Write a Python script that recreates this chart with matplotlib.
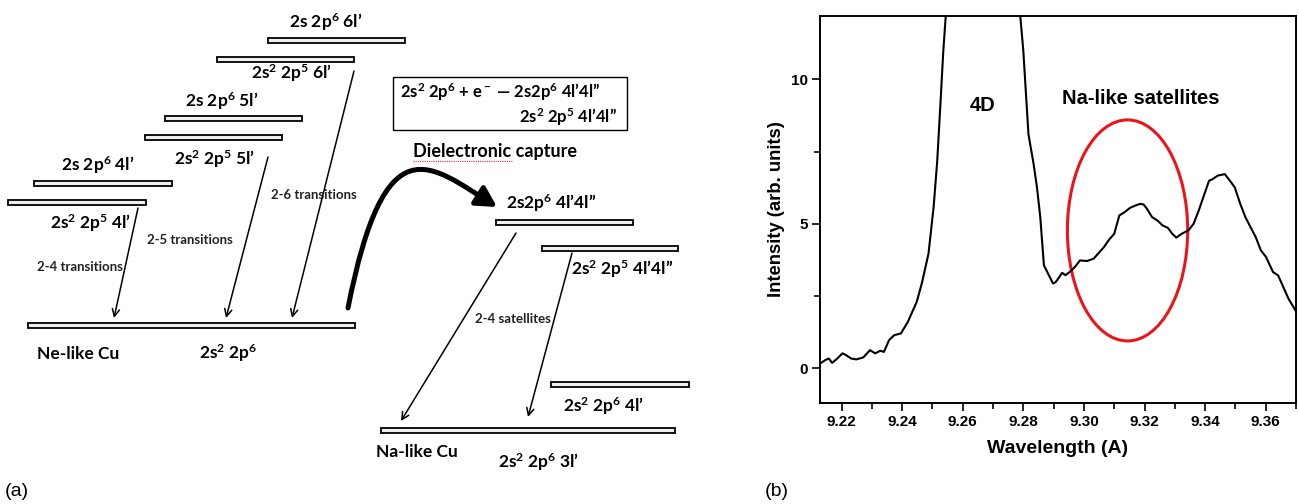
import matplotlib
matplotlib.use("Agg")
import matplotlib.pyplot as plt
from matplotlib.patches import Rectangle, Ellipse, FancyArrowPatch
from matplotlib.path import Path
from matplotlib.ticker import MultipleLocator

plt.rcParams["mathtext.fontset"] = "custom"
plt.rcParams["mathtext.rm"] = "Lato:bold"
plt.rcParams["mathtext.bf"] = "Lato:bold"
plt.rcParams["mathtext.it"] = "Lato:bold:italic"
plt.rcParams["mathtext.default"] = "rm"

# ---- (a) level scheme, in picture pixels ----
level_x0 = [268, 217, 165, 145, 34, 8, 28, 496, 542, 551, 381]
level_x1 = [405, 354, 302, 282, 172, 146, 355, 633, 678, 689, 675]
level_y = [38, 57, 116, 135, 181, 200, 323, 220, 246, 382, 428]

level_labels = [
    "2s 2p$^6$ 6l’", "2s$^2$ 2p$^5$ 6l’", "2s 2p$^6$ 5l’", "2s$^2$ 2p$^5$ 5l’",
    "2s 2p$^6$ 4l’", "2s$^2$ 2p$^5$ 4l’", "2s$^2$ 2p$^6$", "2s2p$^6$ 4l’4l”",
    "2s$^2$ 2p$^5$ 4l’4l”", "2s$^2$ 2p$^6$ 4l’", "2s$^2$ 2p$^6$ 3l’",
]
label_x = [326, 292, 222, 215, 98, 91, 228, 551, 622, 604, 539]
label_y = [28, 79, 107, 165, 171, 229, 359, 209, 275, 412, 468]

ion_labels = ["Ne-like Cu", "Na-like Cu"]
ion_x = [37, 376]
ion_y = [359, 457]

trans_labels = ["2-6 transitions", "2-5 transitions", "2-4 transitions", "2-4 satellites"]
trans_x = [271, 147, 37, 475]
trans_y = [199, 244, 271, 323]

arrow_start = [(138, 208), (268, 157), (354, 71), (516, 233), (572, 253)]
arrow_end = [(114, 318), (226, 318), (292, 318), (401, 421), (528, 417)]

capture_path = [(348, 308), (385, 120), (430, 165), (497, 207)]

# ---- (b) spectrum ----
wavelength = [9.2130, 9.2147, 9.2158, 9.2169, 9.2186, 9.2203, 9.2215, 9.2232, 9.2249, 9.2272,
              9.2294, 9.2311, 9.2328, 9.2340, 9.2357, 9.2374, 9.2396, 9.2419, 9.2448, 9.2465,
              9.2487, 9.2504, 9.2516, 9.2527, 9.2536, 9.2544, 9.2570, 9.2620, 9.2670, 9.2720,
              9.2770, 9.2790, 9.2800, 9.2817, 9.2834, 9.2845, 9.2856, 9.2868, 9.2879, 9.2890,
              9.2898, 9.2907, 9.2919, 9.2928, 9.2939, 9.2953, 9.2970, 9.2987, 9.3010, 9.3032,
              9.3049, 9.3066, 9.3083, 9.3100, 9.3117, 9.3134, 9.3152, 9.3169, 9.3186, 9.3197,
              9.3208, 9.3225, 9.3243, 9.3260, 9.3277, 9.3292, 9.3305, 9.3322, 9.3345, 9.3362,
              9.3379, 9.3396, 9.3413, 9.3425, 9.3442, 9.3465, 9.3482, 9.3498, 9.3516, 9.3533,
              9.3550, 9.3567, 9.3584, 9.3601, 9.3624, 9.3641, 9.3658, 9.3675, 9.3698]
intensity = [0.16, 0.28, 0.33, 0.18, 0.33, 0.51, 0.45, 0.33, 0.30, 0.37,
             0.62, 0.51, 0.60, 0.56, 0.97, 1.14, 1.20, 1.60, 2.29, 2.93,
             3.96, 5.58, 7.19, 9.26, 11.0, 12.2, 16.0, 22.0, 25.0, 22.0,
             15.0, 12.2, 11.0, 8.1, 7.07, 6.27, 5.23, 3.56, 3.33, 3.10,
             2.93, 2.98, 3.16, 3.30, 3.22, 3.33, 3.50, 3.73, 3.71, 3.79,
             3.99, 4.19, 4.45, 4.65, 5.29, 5.40, 5.55, 5.63, 5.69, 5.67,
             5.52, 5.23, 5.11, 4.94, 4.86, 4.65, 4.52, 4.65, 4.77, 5.00,
             5.46, 5.98, 6.49, 6.55, 6.67, 6.72, 6.49, 6.26, 5.69, 5.23,
             4.88, 4.54, 4.08, 3.85, 3.33, 3.21, 2.81, 2.41, 2.00]

xticks = [9.22, 9.24, 9.26, 9.28, 9.30, 9.32, 9.34, 9.36]
yticks = [0, 5, 10]

fig = plt.figure(figsize=(12.99, 5.04), dpi=100, facecolor="white")

# left panel: drawn in pixel coordinates of the whole figure
axa = fig.add_axes([0, 0, 1, 1])
axa.set_xlim(0, 1299)
axa.set_ylim(504, 0)
axa.axis("off")

for x0, x1, y in zip(level_x0, level_x1, level_y):
    axa.add_patch(Rectangle((x0, y), x1 - x0, 4.5, facecolor="#f0f0f0",
                            edgecolor="black", lw=1.3))

for txt, x, y in zip(level_labels, label_x, label_y):
    axa.text(x, y, txt, ha="center", va="baseline", fontsize=12.5,
             family="Lato", fontweight="bold")

for txt, x, y in zip(ion_labels, ion_x, ion_y):
    axa.text(x, y, txt, ha="left", va="baseline", fontsize=12.5,
             family="Lato", fontweight="bold")

for txt, x, y in zip(trans_labels, trans_x, trans_y):
    axa.text(x, y, txt, ha="left", va="baseline", fontsize=9.5,
             family="Lato", fontweight="bold", color="#222222")

for s, e in zip(arrow_start, arrow_end):
    axa.annotate("", xy=e, xytext=s,
                 arrowprops=dict(arrowstyle="->", lw=1.1, color="black",
                                 mutation_scale=13, shrinkA=0, shrinkB=0))

capture = Path(capture_path, [Path.MOVETO, Path.CURVE4, Path.CURVE4, Path.CURVE4])
axa.add_patch(FancyArrowPatch(path=capture, arrowstyle="-|>,head_length=0.4,head_width=0.22",
                              mutation_scale=30, lw=3.6, color="black",
                              shrinkA=0, shrinkB=0))

axa.add_patch(Rectangle((393, 77), 234, 53, fill=False, edgecolor="black", lw=1.0))
axa.text(400, 98, "2s$^2$ 2p$^6$ + e$^-$ — 2s2p$^6$ 4l’4l”", ha="left", va="baseline",
         fontsize=12, family="Lato", fontweight="bold")
axa.text(617, 123, "2s$^2$ 2p$^5$ 4l’4l”", ha="right", va="baseline",
         fontsize=12, family="Lato", fontweight="bold")
axa.text(413, 157, "Dielectronic capture", ha="left", va="baseline",
         fontsize=13, family="Lato", fontweight="bold")
axa.plot([413, 512], [161, 161], color="#e03030", lw=0.8, ls=(0, (1, 1)))

# right panel: spectrum
ax = fig.add_axes([820 / 1299, 1 - 402.7 / 504, 476 / 1299, 386.7 / 504])
ax.plot(wavelength, intensity, color="black", lw=1.5)
ax.add_patch(Ellipse((9.3144, 4.77), 0.0397, 7.66, fill=False,
                     edgecolor="#e8161b", lw=2.2))
ax.text(9.2667, 9.09, "4D", ha="center", va="center", fontsize=14.5,
        family="Liberation Sans", fontweight="bold")
ax.text(9.3189, 9.35, "Na-like satellites", ha="center", va="center", fontsize=14.5,
        family="Liberation Sans", fontweight="bold")

ax.set_xlim(9.2129, 9.3700)
ax.set_ylim(-1.2, 12.2)
ax.set_xticks(xticks)
ax.set_xticklabels([f"{v:.2f}" for v in xticks])
ax.set_yticks(yticks)
ax.xaxis.set_minor_locator(MultipleLocator(0.01))
ax.yaxis.set_minor_locator(MultipleLocator(2.5))
ax.tick_params(which="both", direction="out", top=False, right=False, width=1.2)
ax.tick_params(which="major", length=5.5, pad=3.5, labelsize=11)
ax.tick_params(which="minor", length=4.5)
for lab in ax.get_xticklabels() + ax.get_yticklabels():
    lab.set_family("Liberation Sans")
    lab.set_fontweight("bold")
for sp in ax.spines.values():
    sp.set_linewidth(1.4)
ax.set_xlabel("Wavelength (A)", fontsize=14, family="Liberation Sans",
              fontweight="bold", labelpad=8)
ax.set_ylabel("Intensity (arb. units)", fontsize=13.3, family="Liberation Sans",
              fontweight="bold", labelpad=4)

fig.text(5 / 1299, 1 - 491.5 / 504, "(a)", ha="left", va="center", fontsize=14,
         family="Liberation Sans")
fig.text(765 / 1299, 1 - 491.5 / 504, "(b)", ha="left", va="center", fontsize=14,
         family="Liberation Sans")

fig.savefig("out.png", dpi=100, facecolor="white")
